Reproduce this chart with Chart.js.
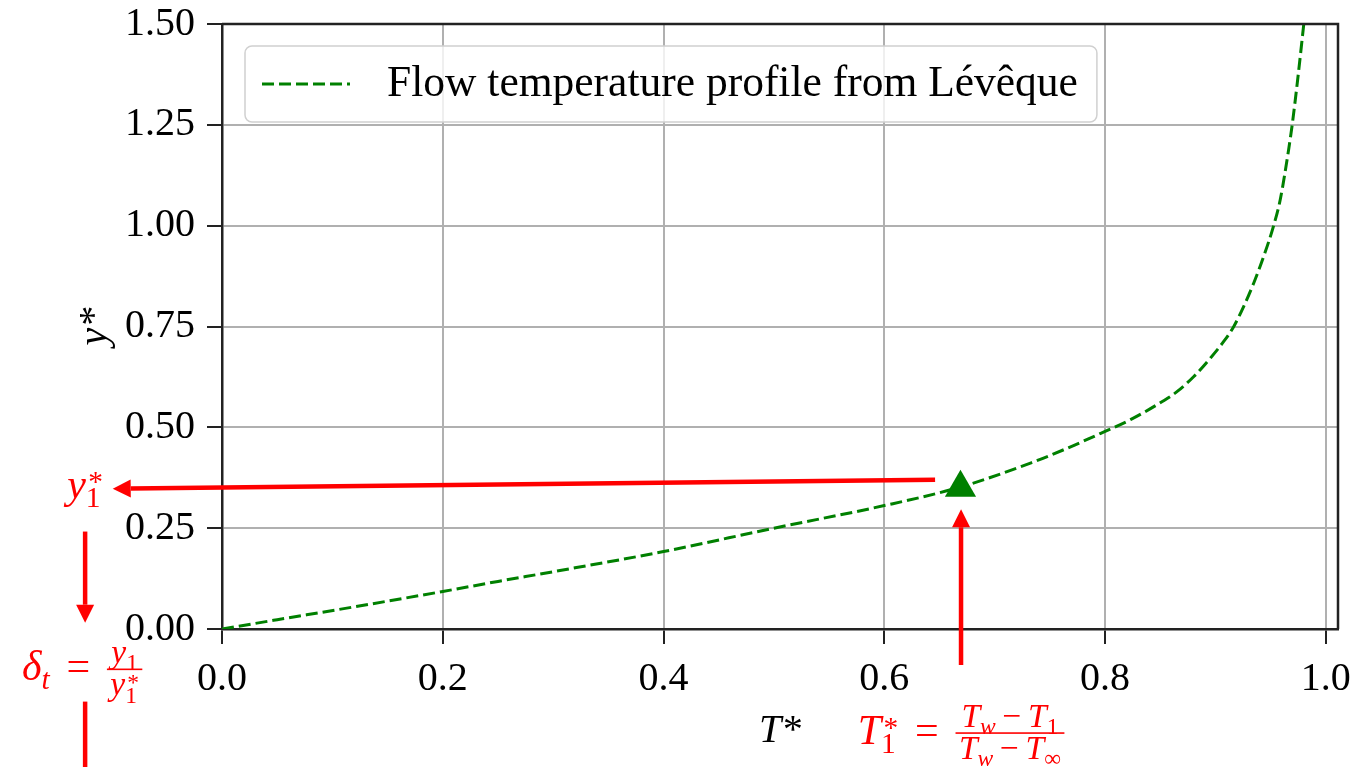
<!DOCTYPE html>
<html>
<head>
<meta charset="utf-8">
<title>Flow temperature profile from Lévêque</title>
<script src="https://cdn.jsdelivr.net/npm/chart.js@4.4.1/dist/chart.umd.min.js"></script>
<style>
  html, body { margin: 0; padding: 0; background: #fff; }
  canvas { display: block; }
</style>
</head>
<body>
<canvas id="profileChart" width="1356" height="767"></canvas>
<script>
// Curve: T* (x) against y* (y)
const tStar = [0, 0.05, 0.12, 0.2, 0.25, 0.3, 0.4, 0.5, 0.6, 0.669, 0.733, 0.763, 0.8, 0.823, 0.853, 0.8654, 0.8804, 0.8955, 0.9075, 0.9166, 0.9256, 0.9347, 0.9437, 0.9527, 0.9587, 0.9663, 0.9695, 0.975, 0.98];
const yStar = [0, 0.023, 0.055, 0.093, 0.118, 0.142, 0.192, 0.25, 0.306, 0.352, 0.412, 0.445, 0.49, 0.519, 0.566, 0.589, 0.626, 0.672, 0.713, 0.75, 0.80, 0.858, 0.924, 1.0, 1.065, 1.189, 1.25, 1.375, 1.5];

// First-cell point (green triangle)
const markerT = [0.669];
const markerY = [0.35];

// Axis ticks
const xTicks = [0, 0.2, 0.4, 0.6, 0.8, 1.0];
const yTicks = [0, 0.25, 0.5, 0.75, 1.0, 1.25, 1.5];

const legendLabel = 'Flow temperature profile from Lévêque';

// Red arrows, in data coordinates [x1, y1, x2, y2], head at the second point
const arrows = [
    [0.646, 0.370, -0.099, 0.348],
    [-0.124, 0.2416, -0.124, 0.0156],
    [0.6695, -0.0894, 0.6695, 0.297]
];
const plainLines = [
    [-0.124, -0.180, -0.124, -0.40]
];

const SERIF = '"Liberation Serif", "DejaVu Serif", serif';
const RED = '#ff0000';
const GREEN = '#008000';

function setFont(ctx, size, italic) {
    ctx.font = (italic ? 'italic ' : '') + size + 'px ' + SERIF;
}

// Tiny math typesetter: returns width, draws when draw=true
function layoutRun(ctx, run, x, base, S, draw) {
    let cx = x;
    for (const tok of run) {
        if (tok.frac) {
            const fs = S * 0.8;
            const wn = layoutRun(ctx, tok.frac.num, 0, 0, fs, false);
            const wd = layoutRun(ctx, tok.frac.den, 0, 0, fs, false);
            const pad = fs * 0.1;
            const w = Math.max(wn, wd) + 2 * pad;
            if (draw) {
                const bar = base - S * 0.25;
                layoutRun(ctx, tok.frac.num, cx + (w - wn) / 2, bar - S * 0.15, fs, true);
                layoutRun(ctx, tok.frac.den, cx + (w - wd) / 2, bar + S * 0.62, fs, true);
                ctx.fillRect(cx, bar - 0.8, w, 1.6);
            }
            cx += w;
        } else if (tok.sub !== undefined || tok.sup !== undefined) {
            const ss = S * 0.7;
            let w = 0;
            if (tok.sub !== undefined) {
                setFont(ctx, ss, !!tok.subIt);
                const ws = ctx.measureText(tok.sub).width;
                if (draw) ctx.fillText(tok.sub, cx, base + S * 0.22);
                w = Math.max(w, ws);
            }
            if (tok.sup !== undefined) {
                setFont(ctx, ss, false);
                const ws = ctx.measureText(tok.sup).width;
                if (draw) ctx.fillText(tok.sup, cx + S * 0.06, base - S * 0.15);
                w = Math.max(w, ws + S * 0.06);
            }
            cx += w;
        } else {
            const pad = (tok.pad || 0) * S;
            setFont(ctx, S, !!tok.it);
            const w = ctx.measureText(tok.t).width;
            if (draw) ctx.fillText(tok.t, cx + pad, base);
            cx += w + 2 * pad;
        }
    }
    return cx - x;
}

function drawMathCentered(ctx, run, cx, base, S) {
    const w = layoutRun(ctx, run, 0, 0, S, false);
    layoutRun(ctx, run, cx - w / 2, base, S, true);
}

function drawArrow(ctx, x1, y1, x2, y2, head) {
    const ang = Math.atan2(y2 - y1, x2 - x1);
    const hl = head ? 18 : 0;
    const bx = x2 - Math.cos(ang) * hl;
    const by = y2 - Math.sin(ang) * hl;
    ctx.beginPath();
    ctx.moveTo(x1, y1);
    ctx.lineTo(bx, by);
    ctx.stroke();
    if (head) {
        const hw = 9;
        ctx.beginPath();
        ctx.moveTo(x2, y2);
        ctx.lineTo(bx + Math.sin(ang) * hw, by - Math.cos(ang) * hw);
        ctx.lineTo(bx - Math.sin(ang) * hw, by + Math.cos(ang) * hw);
        ctx.closePath();
        ctx.fill();
    }
}

const overlay = {
    id: 'overlay',
    afterDraw(chart) {
        const { ctx, chartArea: a, scales: { x, y } } = chart;
        ctx.save();

        // top and right spines
        ctx.strokeStyle = '#222';
        ctx.lineWidth = 2.5;
        ctx.beginPath();
        ctx.moveTo(a.left, a.top);
        ctx.lineTo(a.right, a.top);
        ctx.lineTo(a.right, a.bottom);
        ctx.stroke();

        // legend box, upper left inside the axes
        const legendSize = 43.5;
        setFont(ctx, legendSize, false);
        const textW = ctx.measureText(legendLabel).width;
        const lx = a.left + 23, ly = a.top + 22, lh = 76;
        const lw = 142 + textW + 19;
        ctx.beginPath();
        ctx.roundRect(lx, ly, lw, lh, 7);
        ctx.fillStyle = 'rgba(255,255,255,0.8)';
        ctx.fill();
        ctx.strokeStyle = '#d0d0d0';
        ctx.lineWidth = 1.5;
        ctx.stroke();
        ctx.strokeStyle = GREEN;
        ctx.lineWidth = 3;
        ctx.setLineDash([12, 5]);
        ctx.beginPath();
        ctx.moveTo(lx + 17, ly + lh / 2);
        ctx.lineTo(lx + 105, ly + lh / 2);
        ctx.stroke();
        ctx.setLineDash([]);
        ctx.fillStyle = '#000';
        ctx.textBaseline = 'middle';
        ctx.fillText(legendLabel, lx + 142, ly + lh / 2 + 1);

        // red annotation arrows
        ctx.strokeStyle = RED;
        ctx.fillStyle = RED;
        ctx.lineWidth = 4.5;
        ctx.lineCap = 'butt';
        arrows.forEach(([x1, y1, x2, y2]) => {
            drawArrow(ctx, x.getPixelForValue(x1), y.getPixelForValue(y1),
                x.getPixelForValue(x2), y.getPixelForValue(y2), true);
        });
        plainLines.forEach(([x1, y1, x2, y2]) => {
            drawArrow(ctx, x.getPixelForValue(x1), y.getPixelForValue(y1),
                x.getPixelForValue(x2), y.getPixelForValue(y2), false);
        });

        // red math labels
        ctx.textBaseline = 'alphabetic';
        ctx.fillStyle = RED;
        const S = 42;
        const leftX = x.getPixelForValue(-0.124);
        drawMathCentered(ctx, [{ t: 'y', it: true }, { sub: '1', sup: '*' }],
            leftX, y.getPixelForValue(0.348) + 9, S);
        drawMathCentered(ctx, [
            { t: 'δ', it: true }, { sub: 't', subIt: true }, { t: '=', pad: 0.4 },
            { frac: { num: [{ t: 'y', it: true }, { sub: '1' }],
                      den: [{ t: 'y', it: true }, { sub: '1', sup: '*' }] } }
        ], leftX - 3, y.getPixelForValue(-0.1) + S * 0.25, S);
        drawMathCentered(ctx, [
            { t: 'T', it: true }, { sub: '1', sup: '*' }, { t: '=', pad: 0.4 },
            { frac: { num: [{ t: 'T', it: true }, { sub: 'w', subIt: true }, { t: '−', pad: 0.2 }, { t: 'T', it: true }, { sub: '1' }],
                      den: [{ t: 'T', it: true }, { sub: 'w', subIt: true }, { t: '−', pad: 0.2 }, { t: 'T', it: true }, { sub: '∞' }] } }
        ], x.getPixelForValue(0.6695), y.getPixelForValue(-0.258) + S * 0.25, S);

        ctx.restore();
    }
};

const curveData = tStar.map((t, i) => ({ x: t, y: yStar[i] }));
const markerData = markerT.map((t, i) => ({ x: t, y: markerY[i] }));

const tickFont = { family: SERIF, size: 40 };

const ctx = document.getElementById('profileChart').getContext('2d');
new Chart(ctx, {
    type: 'scatter',
    data: {
        datasets: [{
            label: legendLabel,
            data: curveData,
            showLine: true,
            borderColor: GREEN,
            borderWidth: 3,
            borderDash: [12, 5],
            cubicInterpolationMode: 'monotone',
            pointRadius: 0,
            fill: false,
            order: 2
        }, {
            label: 'T1*',
            data: markerData,
            pointStyle: 'triangle',
            pointRadius: 18,
            backgroundColor: GREEN,
            borderColor: GREEN,
            borderWidth: 0,
            order: 1
        }]
    },
    options: {
        responsive: false,
        devicePixelRatio: 1,
        animation: false,
        layout: { padding: { left: 60, right: 15, top: 24, bottom: 0 } },
        plugins: {
            legend: { display: false },
            tooltip: { enabled: false }
        },
        scales: {
            x: {
                type: 'linear',
                min: 0,
                max: 1.011,
                afterBuildTicks: s => { s.ticks = xTicks.map(v => ({ value: v })); },
                afterFit: s => { s.height = 138; s.paddingLeft = 0; s.paddingRight = 0; },
                ticks: {
                    callback: v => v.toFixed(1),
                    font: tickFont,
                    color: '#000',
                    padding: 11,
                    autoSkip: false,
                    maxRotation: 0
                },
                grid: { color: '#b0b0b0', lineWidth: 2, tickLength: 15, tickColor: '#222', tickWidth: 2 },
                border: { color: '#222', width: 2.5 },
                title: {
                    display: true,
                    text: 'T*',
                    color: '#000',
                    font: { family: SERIF, size: 40, style: 'italic' },
                    padding: { top: 0, bottom: 12 }
                }
            },
            y: {
                type: 'linear',
                min: 0,
                max: 1.5,
                afterBuildTicks: s => { s.ticks = yTicks.map(v => ({ value: v })); },
                afterFit: s => { s.width = 162; s.paddingTop = 0; s.paddingBottom = 0; },
                ticks: {
                    callback: v => v.toFixed(2),
                    font: tickFont,
                    color: '#000',
                    padding: 12,
                    autoSkip: false
                },
                grid: { color: '#b0b0b0', lineWidth: 2, tickLength: 15, tickColor: '#222', tickWidth: 2 },
                border: { color: '#222', width: 2.5 },
                title: {
                    display: true,
                    text: 'y*',
                    color: '#000',
                    font: { family: SERIF, size: 40, style: 'italic' },
                    padding: { top: 11, bottom: 0 }
                }
            }
        }
    },
    plugins: [overlay]
});
</script>
</body>
</html>
